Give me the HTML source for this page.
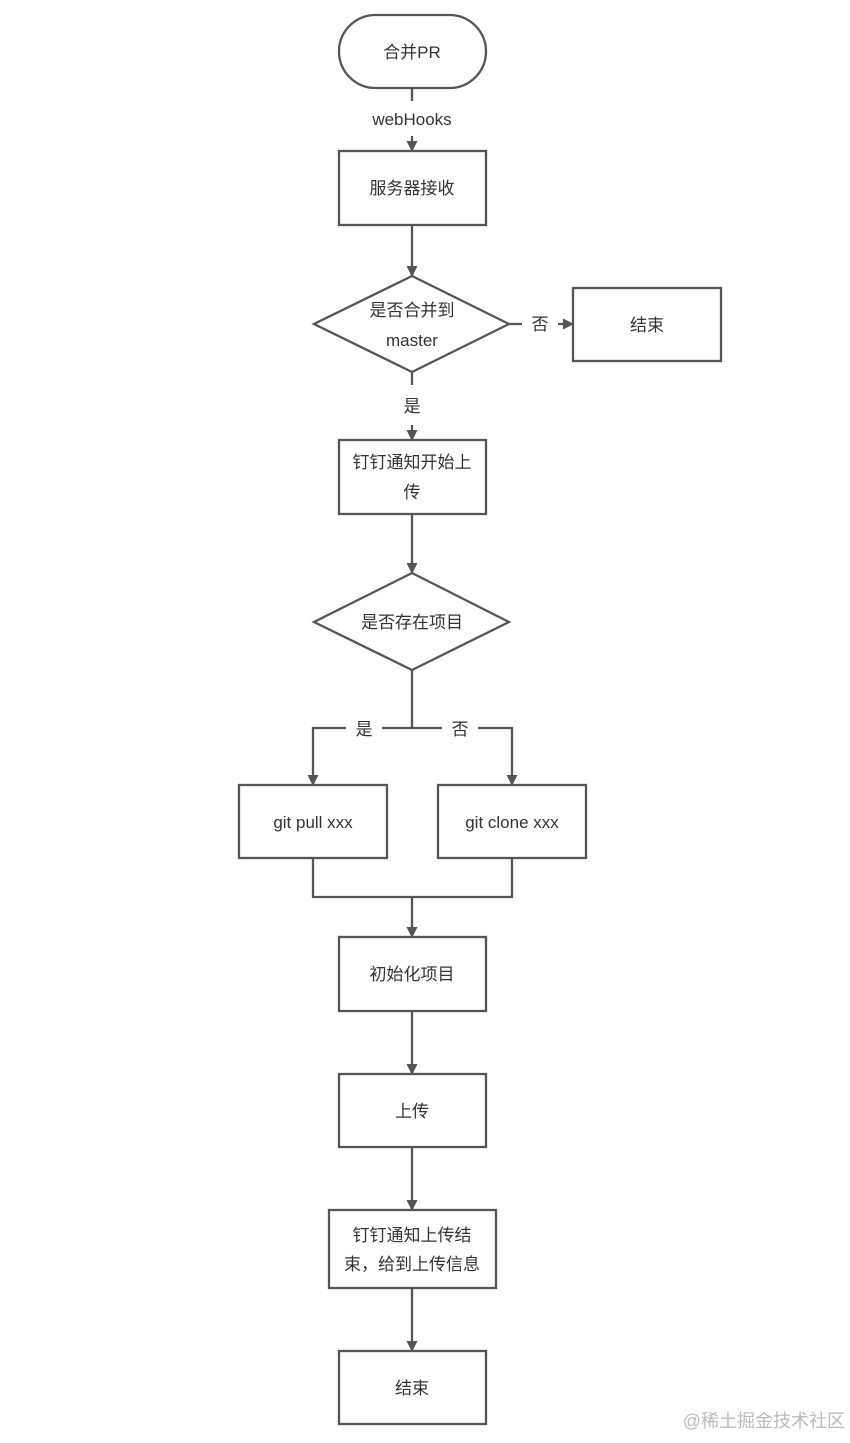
<!DOCTYPE html>
<html><head><meta charset="utf-8"><style>
html,body{margin:0;padding:0;background:#fff;}
svg text{font-family:"Liberation Sans","Noto Sans CJK SC",sans-serif;font-size:17px;fill:#333;}
</style></head><body>
<svg width="850" height="1438" viewBox="0 0 850 1438" xmlns="http://www.w3.org/2000/svg">
<defs><marker id="a" markerWidth="11" markerHeight="11" refX="9" refY="5.5" orient="auto" markerUnits="userSpaceOnUse"><path d="M0,0 L11,5.5 L0,11 z" fill="#555"/></marker></defs>
<g stroke="#555" stroke-width="2.3" fill="none">
<rect x="339" y="15" width="147" height="73" rx="36.5"/>
<line x1="412" y1="88" x2="412" y2="101"/>
<line x1="412" y1="136" x2="412" y2="150" marker-end="url(#a)"/>
<rect x="339" y="151" width="147" height="74"/>
<line x1="412" y1="225" x2="412" y2="275" marker-end="url(#a)"/>
<polygon points="412,276 509,324 412,372 314,324"/>
<line x1="509" y1="324" x2="522" y2="324"/>
<line x1="558" y1="324" x2="572" y2="324" marker-end="url(#a)"/>
<rect x="573" y="288" width="148" height="73"/>
<line x1="412" y1="372" x2="412" y2="385"/>
<line x1="412" y1="425" x2="412" y2="439" marker-end="url(#a)"/>
<rect x="339" y="440" width="147" height="74"/>
<line x1="412" y1="514" x2="412" y2="572" marker-end="url(#a)"/>
<polygon points="412,573 509,622 412,670 314,622"/>
<line x1="412" y1="670" x2="412" y2="728"/>
<polyline points="346,728 313,728 313,784" marker-end="url(#a)"/>
<line x1="382" y1="728" x2="442" y2="728"/>
<polyline points="478,728 512,728 512,784" marker-end="url(#a)"/>
<rect x="239" y="785" width="148" height="73"/>
<rect x="438" y="785" width="148" height="73"/>
<polyline points="313,858 313,897 512,897 512,858"/>
<line x1="412" y1="897" x2="412" y2="936" marker-end="url(#a)"/>
<rect x="339" y="937" width="147" height="74"/>
<line x1="412" y1="1011" x2="412" y2="1073" marker-end="url(#a)"/>
<rect x="339" y="1074" width="147" height="73"/>
<line x1="412" y1="1147" x2="412" y2="1209" marker-end="url(#a)"/>
<rect x="329" y="1210" width="167" height="78"/>
<line x1="412" y1="1288" x2="412" y2="1350" marker-end="url(#a)"/>
<rect x="339" y="1351" width="147" height="73"/>
</g>
<g text-anchor="middle">
<text x="412" y="58">合并PR</text>
<text x="412" y="125">webHooks</text>
<text x="412" y="194">服务器接收</text>
<text x="412" y="316">是否合并到</text>
<text x="412" y="346">master</text>
<text x="540" y="330">否</text>
<text x="647" y="331">结束</text>
<text x="412" y="412">是</text>
<text x="412" y="468">钉钉通知开始上</text>
<text x="412" y="498">传</text>
<text x="412" y="628">是否存在项目</text>
<text x="364" y="735">是</text>
<text x="460" y="735">否</text>
<text x="313" y="828">git pull xxx</text>
<text x="512" y="828">git clone xxx</text>
<text x="412" y="980">初始化项目</text>
<text x="412" y="1117">上传</text>
<text x="412" y="1241">钉钉通知上传结</text>
<text x="412" y="1270">束，给到上传信息</text>
<text x="412" y="1394">结束</text>
</g>
<text x="845" y="1427" text-anchor="end" style="fill:#bbb;font-size:18px">@稀土掘金技术社区</text>
</svg>
</body></html>
